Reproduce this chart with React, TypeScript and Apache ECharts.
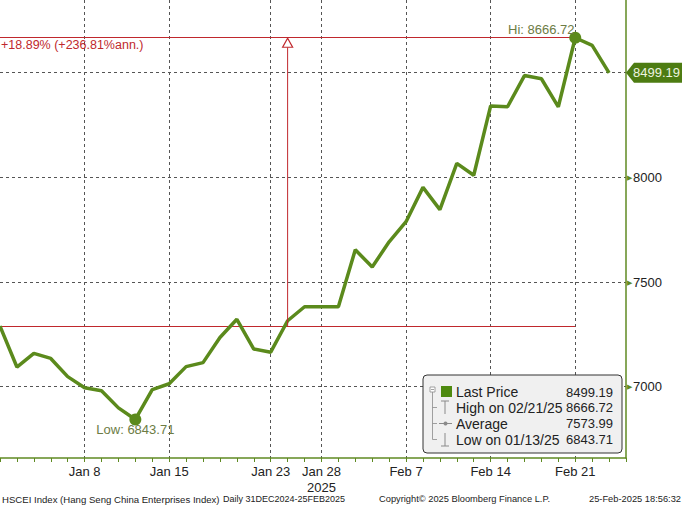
import React, { useEffect, useRef } from "react";
import * as echarts from "echarts";

const dates = [
  "2024-12-31", "2025-01-02", "2025-01-03", "2025-01-06", "2025-01-07", "2025-01-08",
  "2025-01-09", "2025-01-10", "2025-01-13", "2025-01-14", "2025-01-15", "2025-01-16",
  "2025-01-17", "2025-01-20", "2025-01-21", "2025-01-22", "2025-01-23", "2025-01-24",
  "2025-01-27", "2025-01-28", "2025-02-03", "2025-02-04", "2025-02-05", "2025-02-06",
  "2025-02-07", "2025-02-10", "2025-02-11", "2025-02-12", "2025-02-13", "2025-02-14",
  "2025-02-17", "2025-02-18", "2025-02-19", "2025-02-20", "2025-02-21", "2025-02-24",
  "2025-02-25", "",
];

const prices = [
  7289.7, 7094, 7159, 7135, 7048, 6995, 6981, 6899, 6843.71, 6986, 7014, 7096,
  7115, 7235, 7322, 7180, 7165, 7315, 7382, 7382, 7382, 7654, 7572, 7692,
  7788, 7952, 7846, 8067, 8010, 8341, 8337, 8486, 8471, 8337, 8666.72, 8630,
  8499.19,
];

const xLabelDates = ["2025-01-08", "2025-01-15", "2025-01-23", "2025-01-28", "2025-02-07", "2025-02-14", "2025-02-21"];
const xLabelTexts = ["Jan 8", "Jan 15", "Jan 23", "Jan 28\n2025", "Feb 7", "Feb 14", "Feb 21"];
const yLabelValues = [7000, 7500, 8000];
const yMin = 6659.5;
const yMax = 8847;

const arrowDate = "2025-01-24";
const changeText = "+18.89% (+236.81%ann.)";

const legendLabels = ["Last Price", "High on 02/21/25", "Average", "Low on 01/13/25"];
const legendValues = ["8499.19", "8666.72", "7573.99", "6843.71"];

const footerTexts = [
  "HSCEI Index (Hang Seng China Enterprises Index)",
  "Daily 31DEC2024-25FEB2025",
  "Copyright\u00a9 2025 Bloomberg Finance L.P.",
  "25-Feb-2025 18:56:32",
];

const GREEN = "#5b8a1c";
const AXIS_GREEN = "#5f8a22";
const RED = "#c0282d";
const NOTE = "#6c7c44";
const FONT = "Liberation Sans, Arial, sans-serif";

export default function App() {
  const ref = useRef<HTMLDivElement>(null);

  useEffect(() => {
    if (!ref.current) return;
    const chart = echarts.init(ref.current, null, { renderer: "svg" });

    const hi = Math.max(...prices);
    const lo = Math.min(...prices);
    const hiIdx = prices.indexOf(hi);
    const loIdx = prices.indexOf(lo);
    const start = prices[0];
    const last = prices[prices.length - 1];

    chart.setOption({
      animation: false,
      grid: { left: 0, right: 56, top: 0, bottom: 49 },
      xAxis: {
        type: "category",
        data: dates,
        boundaryGap: false,
        axisLine: { lineStyle: { color: AXIS_GREEN, width: 1.5 } },
        axisTick: { show: true, interval: 0, length: 4, lineStyle: { color: AXIS_GREEN } },
        axisLabel: {
          interval: (i: number, v: string) => xLabelDates.includes(v),
          formatter: (v: string) => {
            const k = xLabelDates.indexOf(v);
            return k >= 0 ? xLabelTexts[k] : "";
          },
          color: "#222",
          fontFamily: FONT,
          fontSize: 13,
          lineHeight: 16,
          margin: 5,
        },
        splitLine: {
          show: true,
          interval: (i: number, v: string) => xLabelDates.includes(v),
          lineStyle: { color: "#555", type: [3, 3], width: 1 },
        },
      },
      yAxis: {
        type: "value",
        position: "right",
        min: yMin,
        max: yMax,
        splitNumber: 5,
        axisLine: { show: true, lineStyle: { color: AXIS_GREEN, width: 1.5 } },
        axisTick: { show: false },
        axisLabel: {
          margin: 1,
          formatter: (v: number) => (yLabelValues.includes(v) ? `{a|\u25B6}{b|${v}}` : ""),
          rich: {
            a: { color: AXIS_GREEN, fontSize: 7, padding: [0, 1, 0, 0] },
            b: { color: "#222", fontSize: 13, fontFamily: FONT },
          },
        },
        splitLine: {
          show: true,
          showMinLine: false,
          showMaxLine: false,
          lineStyle: { color: "#555", type: [3, 3], width: 1 },
        },
      },
      series: [
        {
          type: "line",
          data: prices,
          symbol: "none",
          lineStyle: { color: GREEN, width: 3.5 },
          z: 3,
          markLine: {
            silent: true,
            symbol: ["none", "none"],
            label: { show: false },
            lineStyle: { color: RED, width: 1, type: "solid" },
            data: [
              [{ coord: [dates[0], start] }, { coord: [dates[hiIdx], start] }],
              [{ coord: [dates[0], hi] }, { coord: [dates[hiIdx], hi] }],
            ],
            z: 2,
          },
          markPoint: {
            silent: true,
            symbol: "circle",
            symbolSize: 12,
            itemStyle: { color: GREEN },
            data: [
              {
                coord: [dates[hiIdx], hi],
                label: {
                  show: true,
                  position: "top",
                  distance: 0,
                  offset: [-34, 4],
                  formatter: `Hi: ${hi.toFixed(2)}`,
                  color: NOTE,
                  fontFamily: FONT,
                  fontSize: 13,
                },
              },
              {
                coord: [dates[loIdx], lo],
                label: {
                  show: true,
                  position: "bottom",
                  distance: 0,
                  offset: [0, -2],
                  formatter: `Low: ${lo.toFixed(2)}`,
                  color: NOTE,
                  fontFamily: FONT,
                  fontSize: 13,
                },
              },
            ],
          },
        },
      ],
    });

    const pStartArrow = chart.convertToPixel({ seriesIndex: 0 }, [dates.indexOf(arrowDate), start]) as number[];
    const pHiArrow = chart.convertToPixel({ seriesIndex: 0 }, [dates.indexOf(arrowDate), hi]) as number[];
    const pLast = chart.convertToPixel({ seriesIndex: 0 }, [prices.length - 1, last]) as number[];
    const pHi = chart.convertToPixel({ seriesIndex: 0 }, [hiIdx, hi]) as number[];
    const axisX = 626;

    const ax = pHiArrow[0];
    const tipY = pHiArrow[1];
    const baseY = tipY + 9.5;

    const lx = 423, ly = 375, lw = 199, lh = 78;
    const rowY = [392, 407.5, 423.5, 439.5];
    const grey = "#8a8a8a";

    const graphic: any[] = [
      { type: "line", shape: { x1: ax, y1: pStartArrow[1], x2: ax, y2: baseY }, style: { stroke: RED, lineWidth: 1 }, z: 10 },
      {
        type: "polygon",
        shape: { points: [[ax - 5, baseY], [ax + 5, baseY], [ax, tipY + 0.5]] },
        style: { fill: "#fff", stroke: RED, lineWidth: 1.2 },
        z: 10,
      },
      {
        type: "text",
        x: 1,
        y: pHi[1] + 7,
        style: { text: changeText, fill: RED, font: `12.5px ${FONT}`, textVerticalAlign: "middle" },
        z: 10,
      },
      {
        type: "polygon",
        shape: {
          points: [
            [axisX, pLast[1]],
            [axisX + 8, pLast[1] - 10],
            [682, pLast[1] - 10],
            [682, pLast[1] + 10],
            [axisX + 8, pLast[1] + 10],
          ],
        },
        style: { fill: "#4d7c12" },
        z: 20,
      },
      {
        type: "text",
        x: 633,
        y: pLast[1],
        style: { text: last.toFixed(2), fill: "#eef4e0", font: `13px ${FONT}`, textVerticalAlign: "middle" },
        z: 21,
      },
      {
        type: "rect",
        shape: { x: lx, y: ly, width: lw, height: lh, r: 4 },
        style: { fill: "#f0f0f0", stroke: "#333", lineWidth: 1 },
        z: 30,
      },
      { type: "rect", shape: { x: 430, y: 387, width: 5, height: 5 }, style: { fill: "#fff", stroke: grey, lineWidth: 0.8 }, z: 31 },
      { type: "line", shape: { x1: 431, y1: 389.5, x2: 434, y2: 389.5 }, style: { stroke: grey, lineWidth: 0.8 }, z: 31 },
      { type: "line", shape: { x1: 432.5, y1: 392, x2: 432.5, y2: rowY[3] }, style: { stroke: grey, lineWidth: 0.8 }, z: 31 },
      { type: "line", shape: { x1: 432.5, y1: rowY[1], x2: 437, y2: rowY[1] }, style: { stroke: grey, lineWidth: 0.8 }, z: 31 },
      { type: "line", shape: { x1: 432.5, y1: rowY[2], x2: 437, y2: rowY[2] }, style: { stroke: grey, lineWidth: 0.8 }, z: 31 },
      { type: "line", shape: { x1: 432.5, y1: rowY[3], x2: 437, y2: rowY[3] }, style: { stroke: grey, lineWidth: 0.8 }, z: 31 },
      { type: "rect", shape: { x: 441, y: 386, width: 11, height: 11 }, style: { fill: "#4e8a10" }, z: 31 },
      { type: "line", shape: { x1: 441, y1: 401, x2: 449, y2: 401 }, style: { stroke: grey, lineWidth: 1 }, z: 31 },
      { type: "line", shape: { x1: 445, y1: 401, x2: 445, y2: 414 }, style: { stroke: grey, lineWidth: 1 }, z: 31 },
      { type: "line", shape: { x1: 439, y1: rowY[2], x2: 452, y2: rowY[2] }, style: { stroke: grey, lineWidth: 1 }, z: 31 },
      { type: "circle", shape: { cx: 445.5, cy: rowY[2], r: 2 }, style: { fill: grey }, z: 31 },
      { type: "line", shape: { x1: 445, y1: 433, x2: 445, y2: 446 }, style: { stroke: grey, lineWidth: 1 }, z: 31 },
      { type: "line", shape: { x1: 441, y1: 446, x2: 449, y2: 446 }, style: { stroke: grey, lineWidth: 1 }, z: 31 },
    ];

    legendLabels.forEach((t, i) => {
      graphic.push({
        type: "text",
        x: 456,
        y: rowY[i],
        style: { text: t, fill: "#222", font: `14px ${FONT}`, textVerticalAlign: "middle" },
        z: 32,
      });
      graphic.push({
        type: "text",
        x: 613,
        y: rowY[i],
        style: { text: legendValues[i], fill: "#222", font: `13px ${FONT}`, textAlign: "right", textVerticalAlign: "middle" },
        z: 32,
      });
    });

    const footX = [2, 223, 379, 681];
    const footSize = [9.6, 9, 9.3, 9.3];
    footerTexts.forEach((t, i) => {
      graphic.push({
        type: "text",
        x: footX[i],
        y: 499,
        style: {
          text: t,
          fill: "#222",
          font: `${footSize[i]}px ${FONT}`,
          textAlign: i === 3 ? "right" : "left",
          textVerticalAlign: "middle",
        },
        z: 40,
      });
    });

    chart.setOption({ graphic });

    return () => chart.dispose();
  }, []);

  return (
    <div
      ref={ref}
      style={{ position: "fixed", left: 0, top: 0, width: 682, height: 507, background: "#fff" }}
    />
  );
}
